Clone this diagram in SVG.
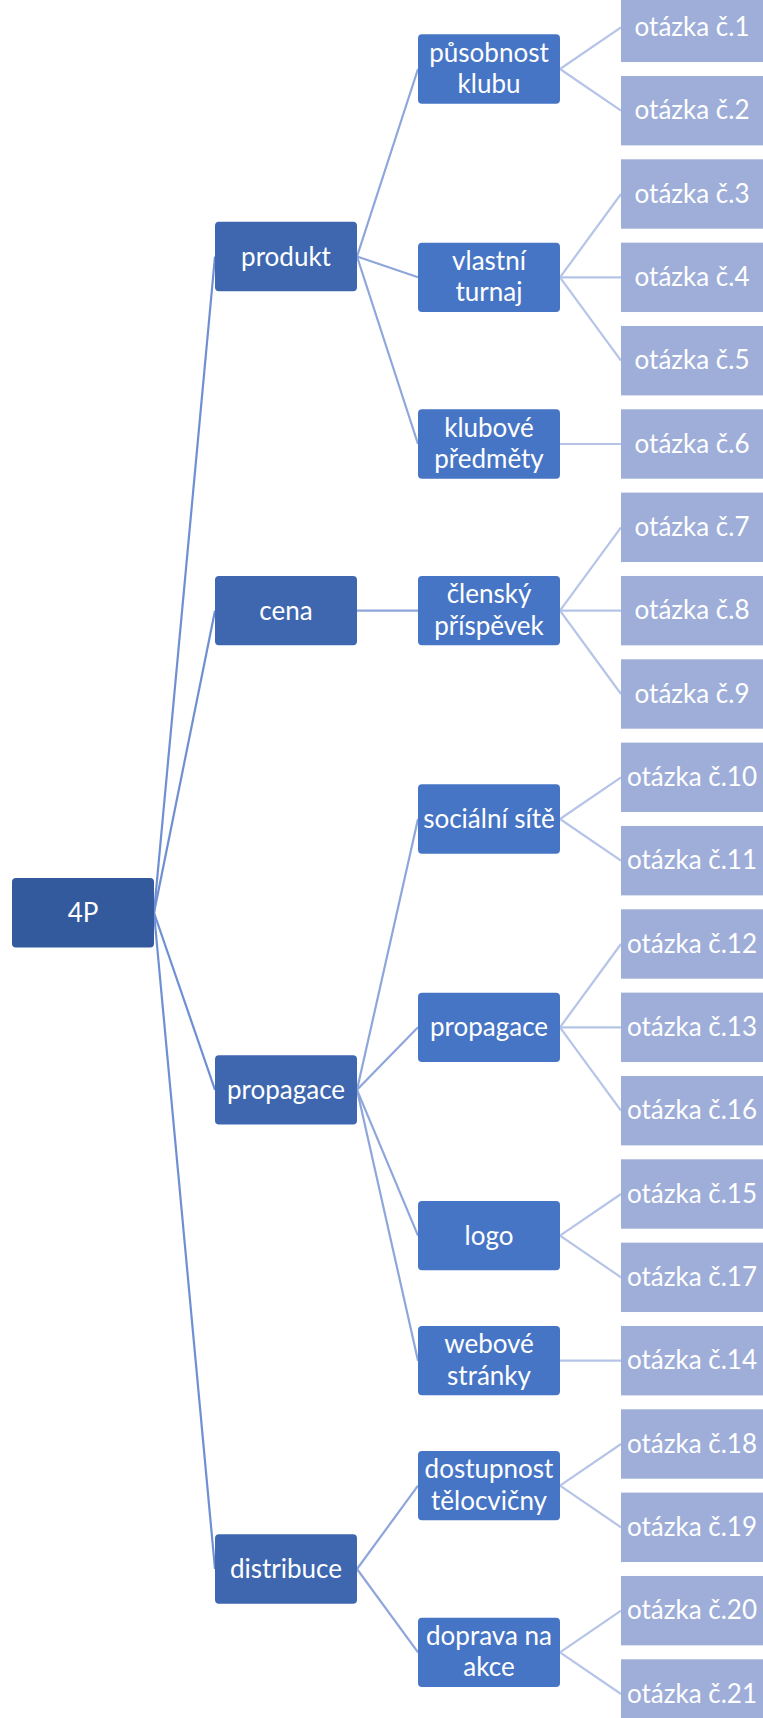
<svg xmlns="http://www.w3.org/2000/svg" width="763" height="1718" viewBox="0 0 763 1718">
  <style>
    .t { font-family: Lato, "Open Sans", "Liberation Sans", sans-serif; font-size: 26px; fill: #ffffff; text-anchor: middle; }
    .l1 { fill: #335a9c; }
    .l2 { fill: #3e67b0; }
    .l3 { fill: #4775c5; }
    .lf { fill: #9eaed9; }
    .c1 { stroke: #6f8fd3; stroke-width: 2.2; fill: none; }
    .c2 { stroke: #8fa6dc; stroke-width: 2.2; fill: none; }
    .c3 { stroke: #b6c4e7; stroke-width: 2.2; fill: none; }
  </style>

  <!-- connectors -->
  <g id="connectors">
    <!-- root to level 2 -->
    <line class="c1" x1="154" y1="912.75" x2="215" y2="256.5"/>
    <line class="c1" x1="154" y1="912.75" x2="215" y2="610.67"/>
    <line class="c1" x1="154" y1="912.75" x2="215" y2="1089.83"/>
    <line class="c1" x1="154" y1="912.75" x2="215" y2="1569"/>
    <!-- level 2 to level 3 -->
    <line class="c2" x1="357" y1="256.5" x2="418" y2="69"/>
    <line class="c2" x1="357" y1="256.5" x2="418" y2="277.33"/>
    <line class="c2" x1="357" y1="256.5" x2="418" y2="444"/>
    <line class="c2" x1="357" y1="610.67" x2="418" y2="610.67"/>
    <line class="c2" x1="357" y1="1089.83" x2="418" y2="819"/>
    <line class="c2" x1="357" y1="1089.83" x2="418" y2="1027.33"/>
    <line class="c2" x1="357" y1="1089.83" x2="418" y2="1235.67"/>
    <line class="c2" x1="357" y1="1089.83" x2="418" y2="1360.67"/>
    <line class="c2" x1="357" y1="1569" x2="418" y2="1485.67"/>
    <line class="c2" x1="357" y1="1569" x2="418" y2="1652.33"/>
    <!-- level 3 to questions -->
    <line class="c3" x1="560" y1="69" x2="621" y2="27.33"/>
    <line class="c3" x1="560" y1="69" x2="621" y2="110.67"/>
    <line class="c3" x1="560" y1="277.33" x2="621" y2="194"/>
    <line class="c3" x1="560" y1="277.33" x2="621" y2="277.33"/>
    <line class="c3" x1="560" y1="277.33" x2="621" y2="360.67"/>
    <line class="c3" x1="560" y1="444" x2="621" y2="444"/>
    <line class="c3" x1="560" y1="610.67" x2="621" y2="527.33"/>
    <line class="c3" x1="560" y1="610.67" x2="621" y2="610.67"/>
    <line class="c3" x1="560" y1="610.67" x2="621" y2="694"/>
    <line class="c3" x1="560" y1="819" x2="621" y2="777.33"/>
    <line class="c3" x1="560" y1="819" x2="621" y2="860.67"/>
    <line class="c3" x1="560" y1="1027.33" x2="621" y2="944"/>
    <line class="c3" x1="560" y1="1027.33" x2="621" y2="1027.33"/>
    <line class="c3" x1="560" y1="1027.33" x2="621" y2="1110.67"/>
    <line class="c3" x1="560" y1="1235.67" x2="621" y2="1194"/>
    <line class="c3" x1="560" y1="1235.67" x2="621" y2="1277.33"/>
    <line class="c3" x1="560" y1="1360.67" x2="621" y2="1360.67"/>
    <line class="c3" x1="560" y1="1485.67" x2="621" y2="1444"/>
    <line class="c3" x1="560" y1="1485.67" x2="621" y2="1527.33"/>
    <line class="c3" x1="560" y1="1652.33" x2="621" y2="1610.67"/>
    <line class="c3" x1="560" y1="1652.33" x2="621" y2="1694"/>
  </g>

  <!-- root -->
  <g id="n-4p" transform="translate(83,912.75)">
    <rect class="l1" x="-71" y="-34.7" width="142" height="69.4" rx="4"/>
    <text class="t" y="9">4P</text>
  </g>

  <!-- level 2 -->
  <g id="n-produkt" transform="translate(286,256.5)">
    <rect class="l2" x="-71" y="-34.7" width="142" height="69.4" rx="4"/>
    <text class="t" y="9">produkt</text>
  </g>
  <g id="n-cena" transform="translate(286,610.67)">
    <rect class="l2" x="-71" y="-34.7" width="142" height="69.4" rx="4"/>
    <text class="t" y="9">cena</text>
  </g>
  <g id="n-propagace" transform="translate(286,1089.83)">
    <rect class="l2" x="-71" y="-34.7" width="142" height="69.4" rx="4"/>
    <text class="t" y="9">propagace</text>
  </g>
  <g id="n-distribuce" transform="translate(286,1569)">
    <rect class="l2" x="-71" y="-34.7" width="142" height="69.4" rx="4"/>
    <text class="t" y="9">distribuce</text>
  </g>

  <!-- level 3 (two-line labels use a tight line pitch) -->
  <g id="n-pusobnost" transform="translate(489,69)">
    <rect class="l3" x="-71" y="-34.7" width="142" height="69.4" rx="4"/>
    <text class="t" y="-7.5">působnost</text>
    <text class="t" y="24">klubu</text>
  </g>
  <g id="n-turnaj" transform="translate(489,277.33)">
    <rect class="l3" x="-71" y="-34.7" width="142" height="69.4" rx="4"/>
    <text class="t" y="-7.5">vlastní</text>
    <text class="t" y="24">turnaj</text>
  </g>
  <g id="n-predmety" transform="translate(489,444)">
    <rect class="l3" x="-71" y="-34.7" width="142" height="69.4" rx="4"/>
    <text class="t" y="-7.5">klubové</text>
    <text class="t" y="24">předměty</text>
  </g>
  <g id="n-prispevek" transform="translate(489,610.67)">
    <rect class="l3" x="-71" y="-34.7" width="142" height="69.4" rx="4"/>
    <text class="t" y="-7.5">členský</text>
    <text class="t" y="24">příspěvek</text>
  </g>
  <g id="n-site" transform="translate(489,819)">
    <rect class="l3" x="-71" y="-34.7" width="142" height="69.4" rx="4"/>
    <text class="t" y="9">sociální sítě</text>
  </g>
  <g id="n-propagace2" transform="translate(489,1027.33)">
    <rect class="l3" x="-71" y="-34.7" width="142" height="69.4" rx="4"/>
    <text class="t" y="9">propagace</text>
  </g>
  <g id="n-logo" transform="translate(489,1235.67)">
    <rect class="l3" x="-71" y="-34.7" width="142" height="69.4" rx="4"/>
    <text class="t" y="9">logo</text>
  </g>
  <g id="n-web" transform="translate(489,1360.67)">
    <rect class="l3" x="-71" y="-34.7" width="142" height="69.4" rx="4"/>
    <text class="t" y="-7.5">webové</text>
    <text class="t" y="24">stránky</text>
  </g>
  <g id="n-telocvicna" transform="translate(489,1485.67)">
    <rect class="l3" x="-71" y="-34.7" width="142" height="69.4" rx="4"/>
    <text class="t" y="-7.5">dostupnost</text>
    <text class="t" y="24">tělocvičny</text>
  </g>
  <g id="n-doprava" transform="translate(489,1652.33)">
    <rect class="l3" x="-71" y="-34.7" width="142" height="69.4" rx="4"/>
    <text class="t" y="-7.5">doprava na</text>
    <text class="t" y="24">akce</text>
  </g>

  <!-- questions -->
  <g id="q1" transform="translate(692,27.33)"><rect class="lf" x="-71" y="-34.7" width="142" height="69.4"/><text class="t" y="8.5">otázka č.1</text></g>
  <g id="q2" transform="translate(692,110.67)"><rect class="lf" x="-71" y="-34.7" width="142" height="69.4"/><text class="t" y="8.5">otázka č.2</text></g>
  <g id="q3" transform="translate(692,194)"><rect class="lf" x="-71" y="-34.7" width="142" height="69.4"/><text class="t" y="8.5">otázka č.3</text></g>
  <g id="q4" transform="translate(692,277.33)"><rect class="lf" x="-71" y="-34.7" width="142" height="69.4"/><text class="t" y="8.5">otázka č.4</text></g>
  <g id="q5" transform="translate(692,360.67)"><rect class="lf" x="-71" y="-34.7" width="142" height="69.4"/><text class="t" y="8.5">otázka č.5</text></g>
  <g id="q6" transform="translate(692,444)"><rect class="lf" x="-71" y="-34.7" width="142" height="69.4"/><text class="t" y="8.5">otázka č.6</text></g>
  <g id="q7" transform="translate(692,527.33)"><rect class="lf" x="-71" y="-34.7" width="142" height="69.4"/><text class="t" y="8.5">otázka č.7</text></g>
  <g id="q8" transform="translate(692,610.67)"><rect class="lf" x="-71" y="-34.7" width="142" height="69.4"/><text class="t" y="8.5">otázka č.8</text></g>
  <g id="q9" transform="translate(692,694)"><rect class="lf" x="-71" y="-34.7" width="142" height="69.4"/><text class="t" y="8.5">otázka č.9</text></g>
  <g id="q10" transform="translate(692,777.33)"><rect class="lf" x="-71" y="-34.7" width="142" height="69.4"/><text class="t" y="8.5">otázka č.10</text></g>
  <g id="q11" transform="translate(692,860.67)"><rect class="lf" x="-71" y="-34.7" width="142" height="69.4"/><text class="t" y="8.5">otázka č.11</text></g>
  <g id="q12" transform="translate(692,944)"><rect class="lf" x="-71" y="-34.7" width="142" height="69.4"/><text class="t" y="8.5">otázka č.12</text></g>
  <g id="q13" transform="translate(692,1027.33)"><rect class="lf" x="-71" y="-34.7" width="142" height="69.4"/><text class="t" y="8.5">otázka č.13</text></g>
  <g id="q16" transform="translate(692,1110.67)"><rect class="lf" x="-71" y="-34.7" width="142" height="69.4"/><text class="t" y="8.5">otázka č.16</text></g>
  <g id="q15" transform="translate(692,1194)"><rect class="lf" x="-71" y="-34.7" width="142" height="69.4"/><text class="t" y="8.5">otázka č.15</text></g>
  <g id="q17" transform="translate(692,1277.33)"><rect class="lf" x="-71" y="-34.7" width="142" height="69.4"/><text class="t" y="8.5">otázka č.17</text></g>
  <g id="q14" transform="translate(692,1360.67)"><rect class="lf" x="-71" y="-34.7" width="142" height="69.4"/><text class="t" y="8.5">otázka č.14</text></g>
  <g id="q18" transform="translate(692,1444)"><rect class="lf" x="-71" y="-34.7" width="142" height="69.4"/><text class="t" y="8.5">otázka č.18</text></g>
  <g id="q19" transform="translate(692,1527.33)"><rect class="lf" x="-71" y="-34.7" width="142" height="69.4"/><text class="t" y="8.5">otázka č.19</text></g>
  <g id="q20" transform="translate(692,1610.67)"><rect class="lf" x="-71" y="-34.7" width="142" height="69.4"/><text class="t" y="8.5">otázka č.20</text></g>
  <g id="q21" transform="translate(692,1694)"><rect class="lf" x="-71" y="-34.7" width="142" height="69.4"/><text class="t" y="8.5">otázka č.21</text></g>
</svg>
